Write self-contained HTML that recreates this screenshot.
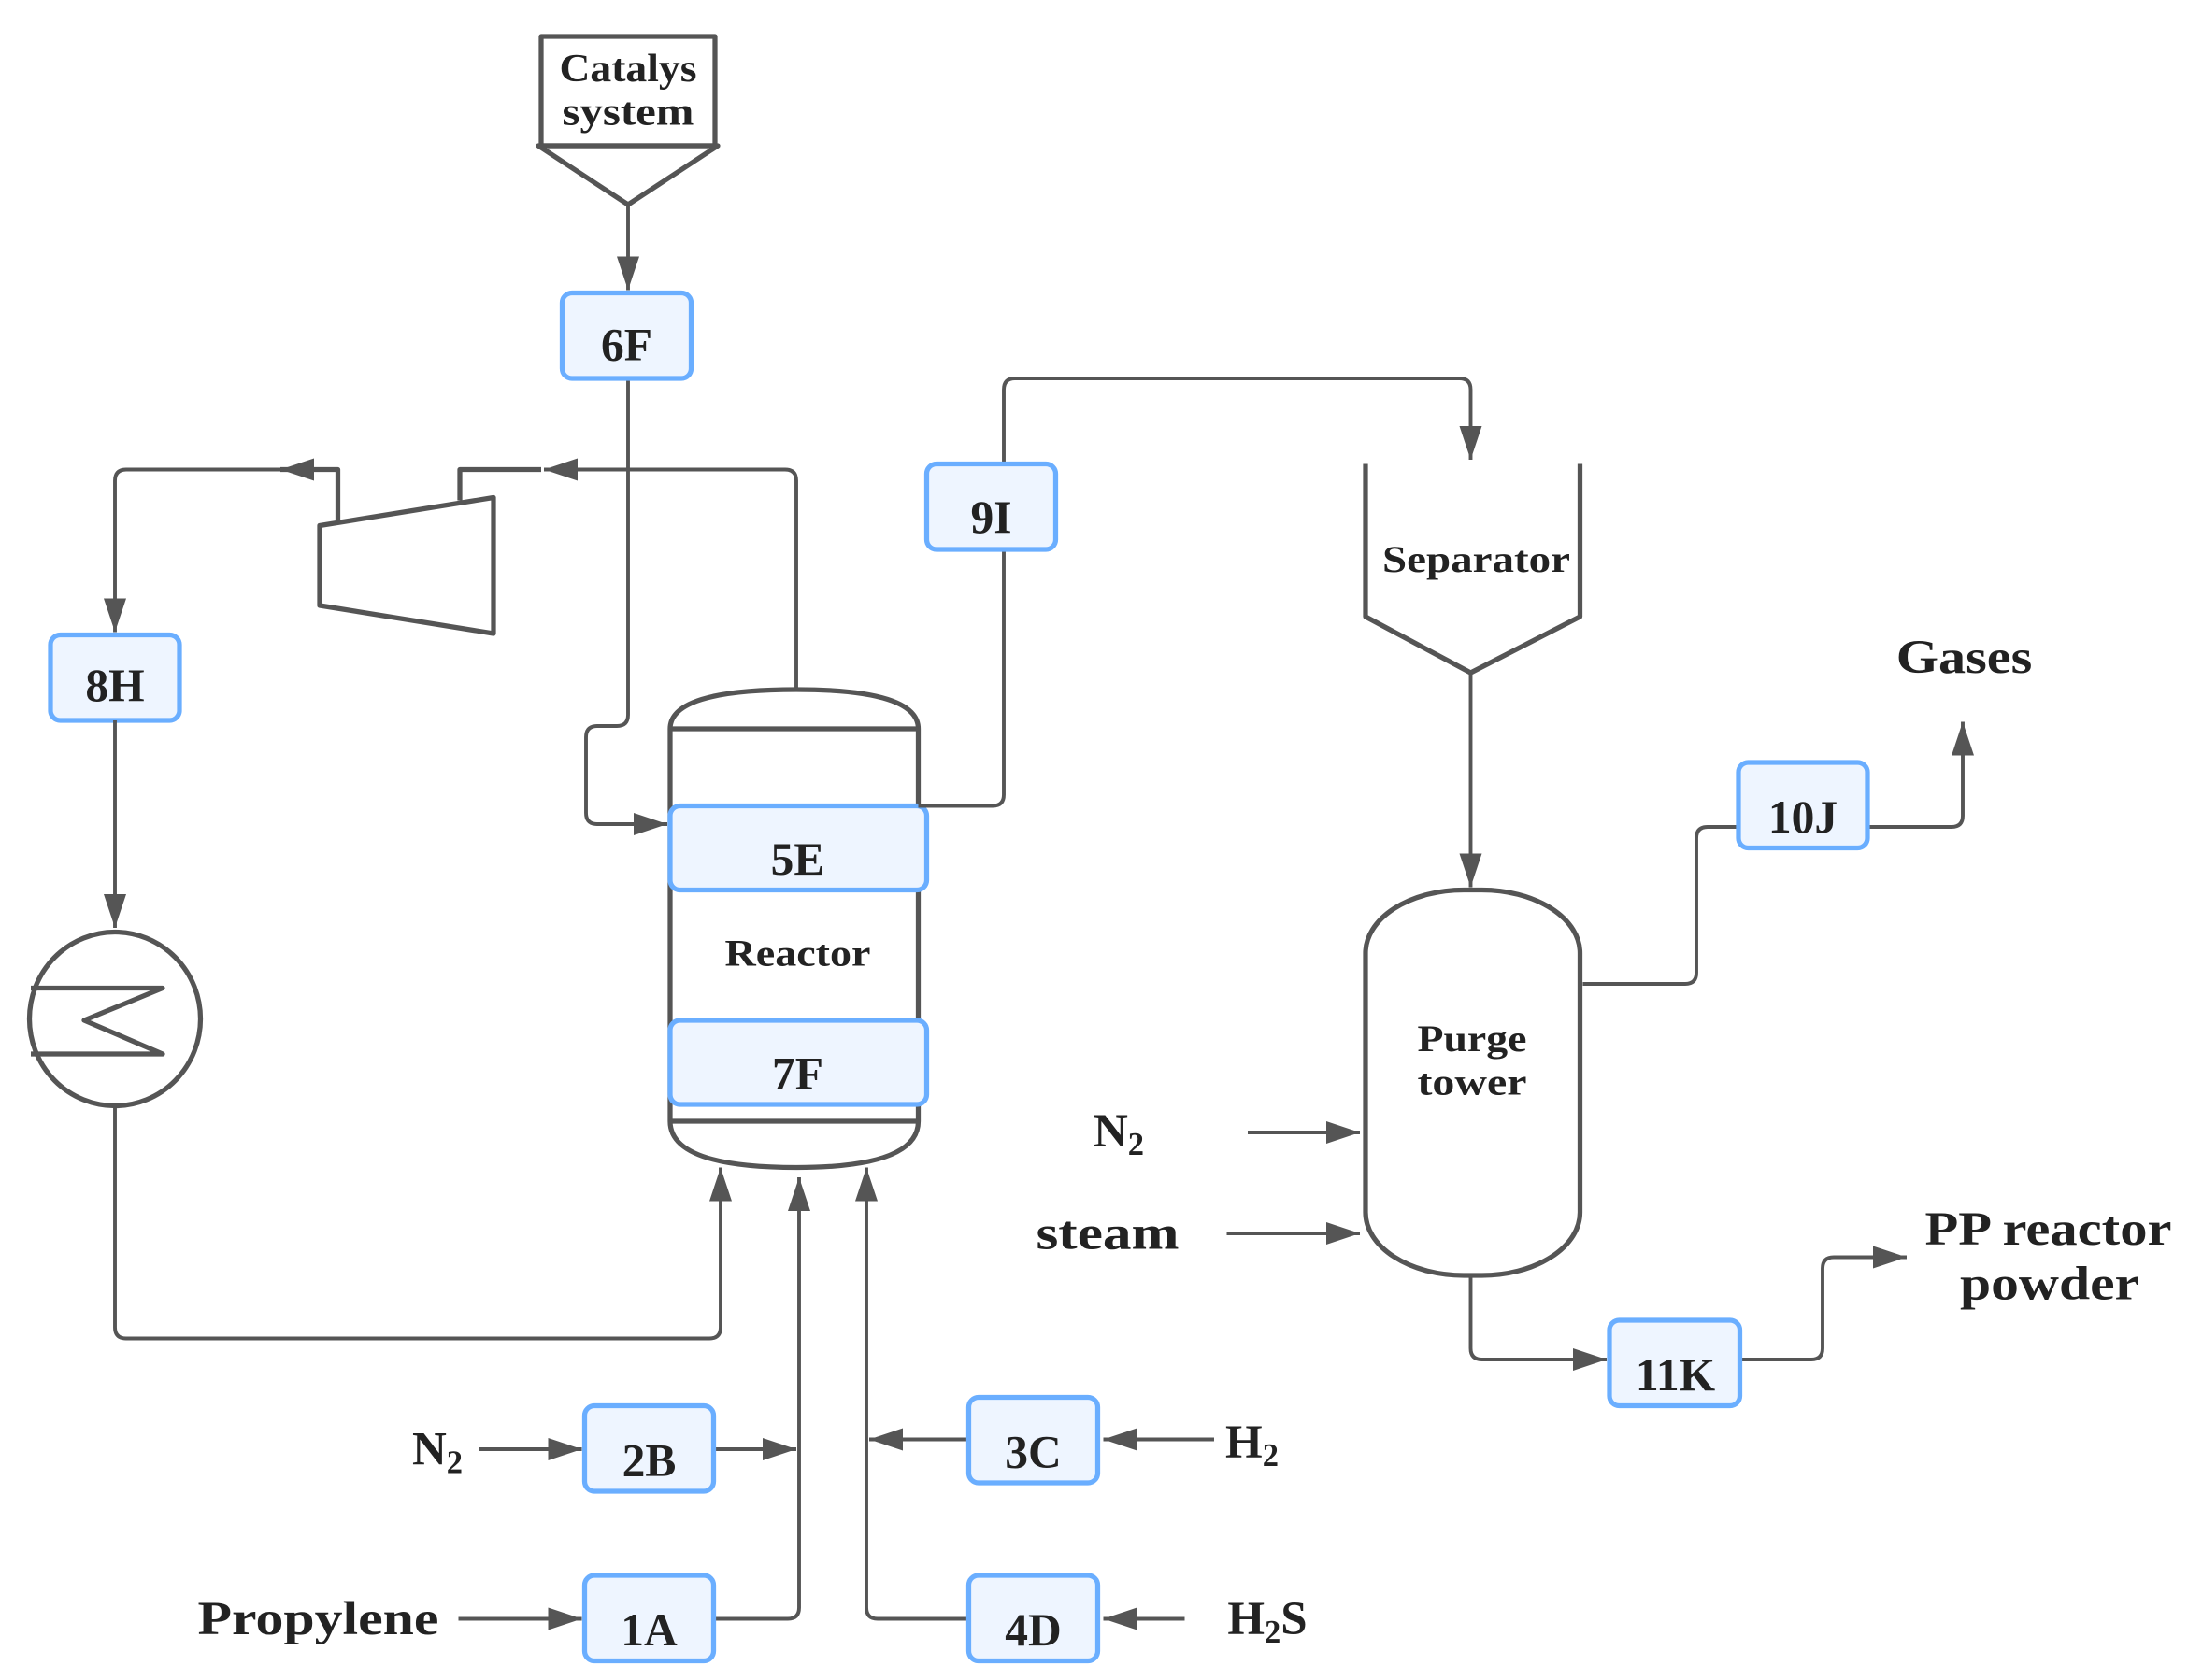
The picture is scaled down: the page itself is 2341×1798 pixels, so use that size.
<!DOCTYPE html>
<html><head><meta charset="utf-8"><style>
html,body{margin:0;padding:0;background:#fff;}
svg{display:block;}
text{font-family:"Liberation Serif","DejaVu Serif",serif;font-weight:bold;fill:#222;text-anchor:middle;}
.l{fill:none;stroke:#555;stroke-width:2.6;stroke-linejoin:round;}
.v{fill:none;stroke:#555;stroke-width:3.5;stroke-linejoin:round;}
.b{fill:#EEF5FF;stroke:#6AAEFF;stroke-width:3.5;}
.bt{font-size:33px;}
.lb{font-size:34px;}
</style></head><body>
<svg width="2341" height="1798" viewBox="0 0 1560.67 1198.67" xmlns="http://www.w3.org/2000/svg">
<defs>
<marker id="ar" viewBox="0 0 24 16" refX="24" refY="8" markerWidth="24" markerHeight="16" orient="auto" markerUnits="userSpaceOnUse">
<path d="M0,0 L24,8 L0,16 Z" fill="#555"/>
</marker>
</defs>

<rect x="386" y="26" width="124" height="78" class="v"/>
<path d="M384,104 L512,104 L448,146 Z" class="v"/>
<text x="448" y="58" font-size="28" textLength="98" lengthAdjust="spacingAndGlyphs">Catalys</text>
<text x="448" y="89" font-size="28" textLength="94" lengthAdjust="spacingAndGlyphs">system</text>
<path d="M448,146 L448,207" class="l" marker-end="url(#ar)"/>

<path d="M448,270 L448,510 Q448,518 440,518 L426,518 Q418,518 418,526 L418,580 Q418,588 426,588 L476,588" class="l" marker-end="url(#ar)"/>

<path d="M568,492 L568,343 Q568,335 560,335 L388,335" class="l" marker-end="url(#ar)"/>
<path d="M386,335 L328,335 L328,357" class="v"/>
<path d="M228,375 L352,355 L352,452 L228,432 Z" class="v"/>
<path d="M241,373 L241,335 L200,335" class="v" marker-end="url(#ar)"/>
<path d="M202,335 L90,335 Q82,335 82,343 L82,451" class="l" marker-end="url(#ar)"/>

<rect x="36" y="453" width="92" height="61" rx="7" class="b"/>
<text x="82" y="500" class="bt">8H</text>
<path d="M82,514 L82,662" class="l" marker-end="url(#ar)"/>

<ellipse cx="82" cy="727" rx="61" ry="62" class="v"/>
<path d="M22,705 L116,705 L60,728 L116,752 L22,752" class="v"/>
<path d="M82,789 L82,947 Q82,955 90,955 L506,955 Q514,955 514,947 L514,833" class="l" marker-end="url(#ar)"/>

<path d="M478,520 Q478,492 568,492 Q655,492 655,520" class="v"/>
<path d="M478,520 L655,520" class="v"/>
<path d="M478,520 L478,800 M655,520 L655,800" class="v"/>
<path d="M478,800 L655,800" class="v"/>
<path d="M478,800 Q478,833 568,833 Q655,833 655,800" class="v"/>
<rect x="478" y="575" width="183" height="60" rx="7" class="b"/>
<text x="569" y="624" class="bt">5E</text>
<text x="569" y="689" font-size="27" textLength="104" lengthAdjust="spacingAndGlyphs">Reactor</text>
<rect x="478" y="728" width="183" height="60" rx="7" class="b"/>
<text x="569" y="777" class="bt">7F</text>

<rect x="401" y="209" width="92" height="61" rx="7" class="b"/>
<text x="447" y="257" class="bt">6F</text>

<path d="M509,1155 L562,1155 Q570,1155 570,1147 L570,840" class="l" marker-end="url(#ar)"/>
<path d="M691,1155 L626,1155 Q618,1155 618,1147 L618,833" class="l" marker-end="url(#ar)"/>
<path d="M509,1034 L568,1034" class="l" marker-end="url(#ar)"/>
<path d="M691,1027 L620,1027" class="l" marker-end="url(#ar)"/>
<path d="M342,1034 L415,1034" class="l" marker-end="url(#ar)"/>
<path d="M327,1155 L415,1155" class="l" marker-end="url(#ar)"/>
<path d="M866,1027 L787,1027" class="l" marker-end="url(#ar)"/>
<path d="M845,1155 L787,1155" class="l" marker-end="url(#ar)"/>

<rect x="417" y="1003" width="92" height="61" rx="7" class="b"/>
<text x="463" y="1053" class="bt">2B</text>
<rect x="417" y="1124" width="92" height="61" rx="7" class="b"/>
<text x="463" y="1174" class="bt">1A</text>
<rect x="691" y="997" width="92" height="61" rx="7" class="b"/>
<text x="737" y="1047" class="bt">3C</text>
<rect x="691" y="1124" width="92" height="61" rx="7" class="b"/>
<text x="737" y="1174" class="bt">4D</text>

<text x="312" y="1045" class="lb">N<tspan font-size="23" dy="6">2</tspan></text>
<text x="227" y="1166" class="lb" textLength="172" lengthAdjust="spacingAndGlyphs">Propylene</text>
<text x="893" y="1040" class="lb">H<tspan font-size="23" dy="6">2</tspan></text>
<text x="904" y="1166" class="lb">H<tspan font-size="23" dy="6">2</tspan><tspan dy="-6">S</tspan></text>

<path d="M655,575 L708,575 Q716,575 716,567 L716,278 Q716,270 724,270 L1041,270 Q1049,270 1049,278 L1049,328" class="l" marker-end="url(#ar)"/>
<rect x="661" y="331" width="92" height="61" rx="7" class="b"/>
<text x="707" y="380" class="bt">9I</text>

<path d="M974,331 L974,440 L1049,480 L1127,440 L1127,331" class="v"/>
<text x="1053" y="408" font-size="27" textLength="134" lengthAdjust="spacingAndGlyphs">Separator</text>
<path d="M1049,480 L1049,633" class="l" marker-end="url(#ar)"/>

<rect x="974" y="635" width="153" height="275" rx="70" ry="45" class="v"/>
<text x="1050" y="750" font-size="27" textLength="78" lengthAdjust="spacingAndGlyphs">Purge</text>
<text x="1050" y="781" font-size="27" textLength="78" lengthAdjust="spacingAndGlyphs">tower</text>
<path d="M890,808 L970,808" class="l" marker-end="url(#ar)"/>
<path d="M875,880 L970,880" class="l" marker-end="url(#ar)"/>
<text x="798" y="818" class="lb">N<tspan font-size="23" dy="6">2</tspan></text>
<text x="790" y="891" class="lb" textLength="102" lengthAdjust="spacingAndGlyphs">steam</text>

<path d="M1129,702 L1202,702 Q1210,702 1210,694 L1210,598 Q1210,590 1218,590 L1240,590" class="l"/>
<path d="M1332,590 L1392,590 Q1400,590 1400,582 L1400,515" class="l" marker-end="url(#ar)"/>
<rect x="1240" y="544" width="92" height="61" rx="7" class="b"/>
<text x="1286" y="594" class="bt">10J</text>
<text x="1401" y="480" class="lb" textLength="97" lengthAdjust="spacingAndGlyphs">Gases</text>

<path d="M1049,910 L1049,962 Q1049,970 1057,970 L1146,970" class="l" marker-end="url(#ar)"/>
<path d="M1241,970 L1292,970 Q1300,970 1300,962 L1300,905 Q1300,897 1308,897 L1360,897" class="l" marker-end="url(#ar)"/>
<rect x="1148" y="942" width="93" height="61" rx="7" class="b"/>
<text x="1195" y="992" class="bt">11K</text>
<text x="1461" y="888" class="lb" textLength="176" lengthAdjust="spacingAndGlyphs">PP reactor</text>
<text x="1462" y="927" class="lb" textLength="128" lengthAdjust="spacingAndGlyphs">powder</text>
</svg>
</body></html>
